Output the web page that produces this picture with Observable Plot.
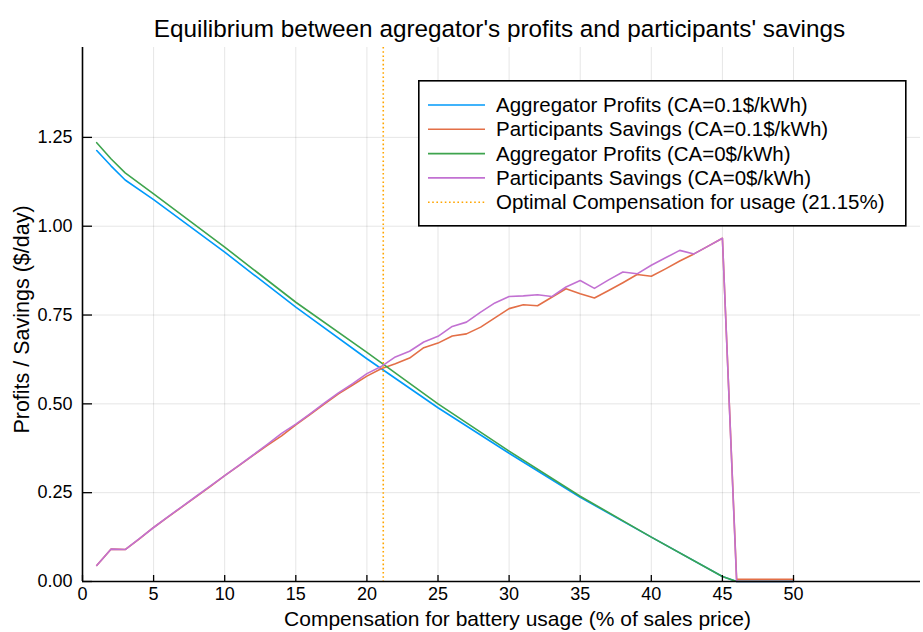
<!DOCTYPE html>
<html><head><meta charset="utf-8">
<script src="https://cdn.jsdelivr.net/npm/d3@7"></script>
<script src="https://cdn.jsdelivr.net/npm/@observablehq/plot@0.6"></script>
<style>
body{margin:0;background:#fff;font-family:"Liberation Sans",Arial,Helvetica,sans-serif;}
#wrap{position:relative;width:923px;height:632px;}
#legend{position:absolute;left:418px;top:80px;}
</style></head><body><div id="wrap"></div>
<script>
// ---- data ----
const compensation = [1,2,3,4,5,6,7,8,9,10,11,12,13,14,15,16,17,18,19,20,21,22,23,24,25,26,27,28,29,30,31,32,33,34,35,36,37,38,39,40,41,42,43,44,45,46,47,48,49,50];
const savingsCA01 = [0.045,0.091,0.090,0.120,0.152,0.181,0.210,0.239,0.268,0.298,0.326,0.355,0.383,0.410,0.441,0.470,0.499,0.528,0.553,0.578,0.599,0.613,0.629,0.658,0.671,0.691,0.697,0.716,0.742,0.768,0.779,0.776,0.800,0.824,0.810,0.798,0.819,0.841,0.864,0.859,0.880,0.902,0.922,0.944,0.966,0.006,0.006,0.006,0.006,0.006];
const savingsCA0 = [0.045,0.091,0.090,0.121,0.152,0.182,0.211,0.240,0.269,0.298,0.327,0.356,0.386,0.417,0.443,0.472,0.502,0.531,0.557,0.585,0.605,0.632,0.648,0.674,0.690,0.718,0.730,0.758,0.784,0.802,0.804,0.807,0.802,0.829,0.847,0.825,0.849,0.871,0.866,0.890,0.911,0.932,0.922,0.944,0.966,0,0,0,0,0];
const profitX = [1,2,3,5,10,15,20,25,30,35,40,45,46,47,48,49,50];
const profitsCA01 = [1.213,1.170,1.130,1.075,0.927,0.772,0.627,0.489,0.361,0.237,0.125,0.014,0,0,0,0,0];
const profitsCA0 = [1.235,1.190,1.150,1.091,0.941,0.786,0.645,0.500,0.367,0.240,0.125,0.014,0,0,0,0,0];
const optimalCompensation = [21.15];
const xTicks = [0,5,10,15,20,25,30,35,40,45,50];
const yTicks = [0,0.25,0.5,0.75,1.0,1.25];
const seriesNames = ["Aggregator Profits (CA=0.1$/kWh)","Participants Savings (CA=0.1$/kWh)","Aggregator Profits (CA=0$/kWh)","Participants Savings (CA=0$/kWh)","Optimal Compensation for usage (21.15%)"];
const seriesColors = ["#009AFA","#E36F47","#3EA44E","#C271D2","#FFA500"];
const titleText = "Equilibrium between agregator's profits and participants' savings";
const xLabel = "Compensation for battery usage (% of sales price)";
const yLabel = "Profits / Savings ($/day)";

// ---- tables ----
const profits01 = profitX.map((x,i)=>({x, y: profitsCA01[i]}));
const profits0 = profitX.map((x,i)=>({x, y: profitsCA0[i]}));
const sav01 = compensation.map((x,i)=>({x, y: savingsCA01[i]}));
const sav0 = compensation.map((x,i)=>({x, y: savingsCA0[i]}));

const font = "'Liberation Sans', Arial, Helvetica, sans-serif";
const lw = 1.6;

const chart = Plot.plot({
  width: 923, height: 632,
  marginLeft: 82, marginRight: 3, marginTop: 47, marginBottom: 51,
  x: {domain: [0, 58.93]},
  y: {domain: [0, 1.503]},
  style: {fontFamily: font, background: "white", color: "black"},
  marks: [
    Plot.gridX(xTicks, {stroke: "#000", strokeOpacity: 0.1, strokeWidth: 1}),
    Plot.gridY(yTicks, {stroke: "#000", strokeOpacity: 0.1, strokeWidth: 1}),
    Plot.line(profits01, {x: "x", y: "y", stroke: seriesColors[0], strokeWidth: lw}),
    Plot.line(sav01, {x: "x", y: "y", stroke: seriesColors[1], strokeWidth: lw}),
    Plot.line(profits0, {x: "x", y: "y", stroke: seriesColors[2], strokeWidth: lw}),
    Plot.line(sav0, {x: "x", y: "y", stroke: seriesColors[3], strokeWidth: lw}),
    Plot.ruleX(optimalCompensation, {stroke: seriesColors[4], strokeWidth: 1.6, strokeDasharray: "1.6,2.6"}),
    Plot.ruleY([0], {stroke: "black", strokeWidth: 1.6}),
    Plot.ruleX([0], {stroke: "black", strokeWidth: 1.6}),
    Plot.axisX(xTicks, {tickSize: -6, tickFormat: () => "", strokeWidth: 1.3, label: null}),
    Plot.axisY(yTicks, {tickSize: -10, tickFormat: () => "", strokeWidth: 1.3, label: null}),
    Plot.axisX(xTicks, {tickSize: 0, tickPadding: 6, fontSize: 18, label: null, tickFormat: d3.format("d")}),
    Plot.axisY(yTicks, {tickSize: 0, tickPadding: 10, fontSize: 18, label: null, tickFormat: d3.format(".2f")}),
    Plot.text([titleText], {frameAnchor: "top", dy: -28, dx: -2, fontSize: 24.3, fill: "black"}),
    Plot.text([xLabel], {frameAnchor: "bottom", lineAnchor: "top", fontSize: 21, fill: "black", dy: 30, dx: 16}),
    Plot.text([yLabel], {frameAnchor: "left", textAnchor: "middle", dx: -60, dy: 5, rotate: -90, fontSize: 21.5, fill: "black"})
  ]
});
document.getElementById("wrap").appendChild(chart);

// ---- legend ----
const ns = "http://www.w3.org/2000/svg";
const lg = document.createElementNS(ns, "svg");
lg.setAttribute("id", "legend");
lg.setAttribute("width", 489); lg.setAttribute("height", 147);
lg.style.fontFamily = font;
const rect = document.createElementNS(ns, "rect");
rect.setAttribute("x", 0.8); rect.setAttribute("y", 0.8);
rect.setAttribute("width", 487); rect.setAttribute("height", 145);
rect.setAttribute("fill", "white"); rect.setAttribute("stroke", "black"); rect.setAttribute("stroke-width", 1.6);
lg.appendChild(rect);
seriesNames.forEach((name, i) => {
  const cy = 25 + i * 24.3;
  const ln = document.createElementNS(ns, "line");
  ln.setAttribute("x1", 10); ln.setAttribute("x2", 67);
  ln.setAttribute("y1", cy); ln.setAttribute("y2", cy);
  ln.setAttribute("stroke", seriesColors[i]); ln.setAttribute("stroke-width", 1.6);
  if (i === 4) ln.setAttribute("stroke-dasharray", "1.6,2.6");
  lg.appendChild(ln);
  const t = document.createElementNS(ns, "text");
  t.setAttribute("x", 78); t.setAttribute("y", cy);
  t.setAttribute("dy", "0.35em");
  t.setAttribute("font-size", 20.5);
  t.textContent = name;
  lg.appendChild(t);
});
document.getElementById("wrap").appendChild(lg);
</script></body></html>
